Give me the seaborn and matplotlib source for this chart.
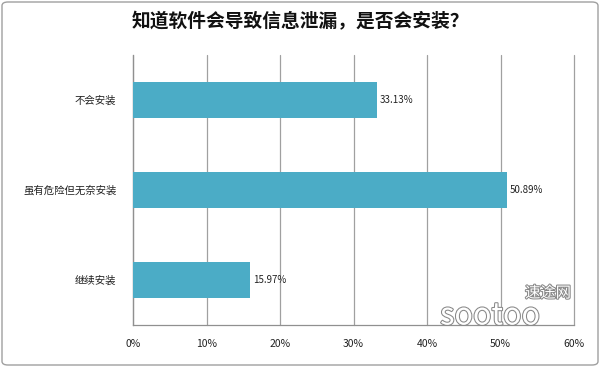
import matplotlib
matplotlib.use("Agg")
import matplotlib.pyplot as plt
import matplotlib.patheffects as pe
from matplotlib.patches import FancyBboxPatch
import seaborn as sns
import pandas as pd

categories = ["不会安装", "虽有危险但无奈安装", "继续安装"]
values = [33.13, 50.89, 15.97]
xticks = [0, 10, 20, 30, 40, 50, 60]
xtick_labels = ["0%", "10%", "20%", "30%", "40%", "50%", "60%"]
title = "知道软件会导致信息泄漏，是否会安装？"

sns.set_theme(style="white")
plt.rcParams['font.family'] = ['Noto Sans CJK SC', 'DejaVu Sans']

df = pd.DataFrame({"cat": categories, "val": values})

fig = plt.figure(figsize=(6, 3.67), dpi=100)
ax = fig.add_axes([133/600, 1-325/367, (574-133)/600, (325-55)/367])

sns.barplot(data=df, x="val", y="cat", orient="h", color="#4BACC6", saturation=1,
            width=0.4, ax=ax, zorder=3, linewidth=0)

ax.set_xlim(0, 60)
ax.set_ylim(2.5, -0.5)
ax.set_xticks(xticks)
ax.set_xticklabels(xtick_labels, fontsize=7.5, color="#222222")
ax.set_yticks([0, 1, 2])
ax.set_yticklabels(categories, fontsize=7.5, color="#222222")
ax.set_xlabel("")
ax.set_ylabel("")
ax.grid(axis="x", color="#a0a0a0", linewidth=0.9, zorder=0)
for gl in ax.get_xgridlines():
    gl.set_clip_on(False)
ax.grid(axis="y", visible=False)
for s in ["top", "right"]:
    ax.spines[s].set_visible(False)
for s in ["left", "bottom"]:
    ax.spines[s].set_color("#909090")
    ax.spines[s].set_linewidth(0.9)
ax.tick_params(axis="y", length=0, pad=12)
ax.tick_params(axis="x", length=0, pad=10)

ax.set_yticks([-0.5, 0.5, 1.5, 2.5], minor=True)
ax.tick_params(axis="y", which="minor", length=4, color="#909090", width=0.9, direction="out")

for i, v in enumerate(values):
    ax.text(v + 0.4, i, f"{v:.2f}%", va="center", ha="left", fontsize=7, color="#222222")

fig.text(0.5, 1-22/367, title, ha="center", va="center", fontsize=13.5,
         fontweight="bold", color="#111111")

# watermark
fig.text(548/600, 1-293/367, "速途网", ha="center", va="center", fontsize=11, style="italic",
         color="white", path_effects=[pe.withStroke(linewidth=1.5, foreground="#888888")], zorder=10)
fig.text(490/600, 1-316/367, "sootoo", ha="center", va="center", fontsize=22,
         color="white", path_effects=[pe.withStroke(linewidth=1.5, foreground="#888888")], zorder=10)

border = FancyBboxPatch((2/600, 2/367), 596/600, 363/367, boxstyle="round,pad=0,rounding_size=0.01",
                        transform=fig.transFigure, fill=False, edgecolor="#a0a0a0", linewidth=1)
fig.patches.append(border)

fig.savefig("out.png", dpi=100)
